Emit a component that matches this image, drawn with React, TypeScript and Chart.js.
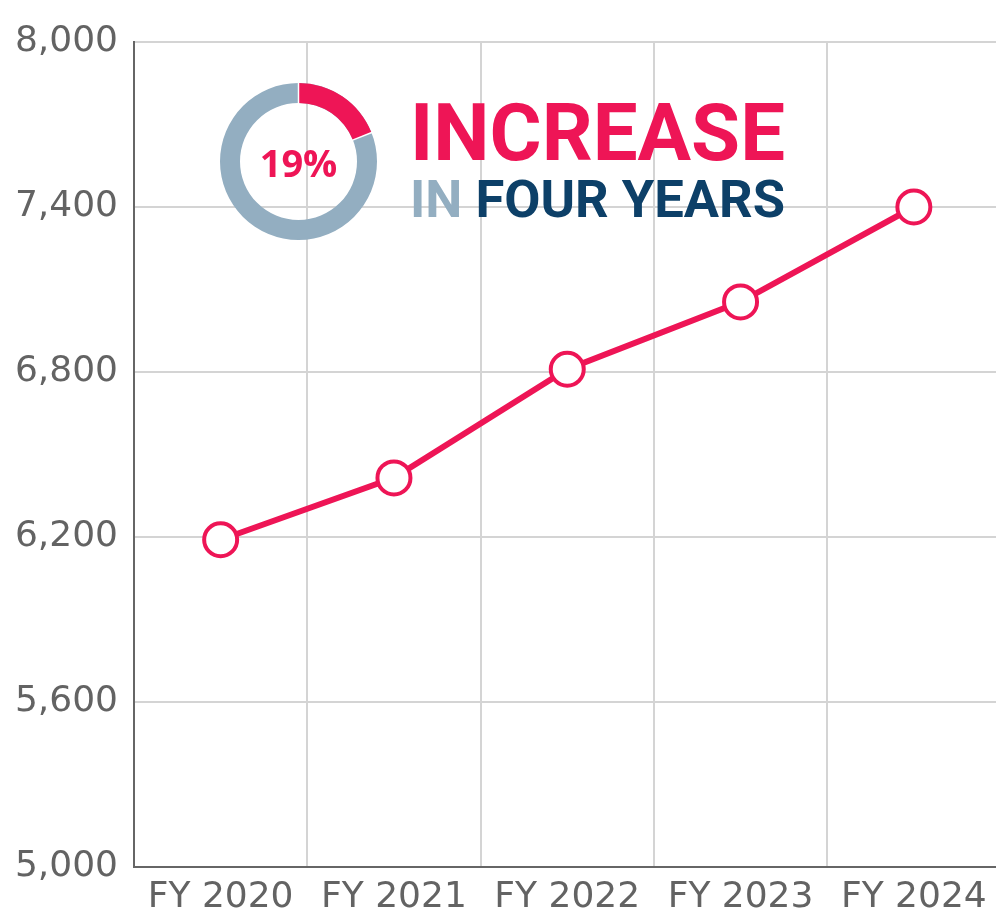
import React, { useEffect, useRef } from 'react';
import { Chart, registerables } from 'chart.js';

Chart.register(...registerables);

const categories = ['FY 2020', 'FY 2021', 'FY 2022', 'FY 2023', 'FY 2024'];
const values = [6190, 6415, 6810, 7055, 7400];
const yMin = 5000;
const yMax = 8000;
const yStep = 600;
const increasePct = 19;
const headlineTop = 'INCREASE';
const headlineSubA = 'IN';
const headlineSubB = 'FOUR YEARS';

const PINK = '#EE1556';
const STEEL = '#93AEC1';
const NAVY = '#0D4068';
const AXIS = '#666666';
const GRID = '#d4d4d4';
const TICK = '#636363';

const overlayPlugin = {
  id: 'overlay',
  afterDraw(chart: any) {
    const ctx = chart.ctx as CanvasRenderingContext2D;
    ctx.save();
    // donut
    const cx = 298.5, cy = 161.5, R = 78.5, r = 58.5;
    ctx.beginPath();
    ctx.arc(cx, cy, R, 0, Math.PI * 2);
    ctx.arc(cx, cy, r, Math.PI * 2, 0, true);
    ctx.closePath();
    ctx.fillStyle = STEEL;
    ctx.fill('evenodd');
    const a0 = -Math.PI / 2;
    const a1 = a0 + (Math.PI * 2 * increasePct) / 100;
    ctx.beginPath();
    ctx.arc(cx, cy, R, a0, a1);
    ctx.arc(cx, cy, r, a1, a0, true);
    ctx.closePath();
    ctx.fillStyle = PINK;
    ctx.fill();
    ctx.strokeStyle = '#ffffff';
    ctx.lineWidth = 1.5;
    for (const a of [a0, a1]) {
      ctx.beginPath();
      ctx.moveTo(cx + Math.cos(a) * (r - 1), cy + Math.sin(a) * (r - 1));
      ctx.lineTo(cx + Math.cos(a) * (R + 1), cy + Math.sin(a) * (R + 1));
      ctx.stroke();
    }
    ctx.fillStyle = PINK;
    ctx.font = 'bold 38px "Open Sans"';
    ctx.textAlign = 'center';
    ctx.textBaseline = 'alphabetic';
    ctx.fillText(increasePct + '%', cx, 177);

    // headline
    ctx.textAlign = 'left';
    ctx.font = 'bold 80px Roboto';
    const w1 = ctx.measureText(headlineTop).width;
    ctx.save();
    ctx.translate(410, 160);
    ctx.scale(375 / w1, 1);
    ctx.fillStyle = PINK;
    ctx.fillText(headlineTop, 0, 0);
    ctx.restore();

    ctx.font = 'bold 52px Roboto';
    const full = headlineSubA + ' ' + headlineSubB;
    const w2 = ctx.measureText(full).width;
    const wA = ctx.measureText(headlineSubA + ' ').width;
    ctx.save();
    ctx.translate(410, 217);
    ctx.scale(375 / w2, 1);
    ctx.fillStyle = STEEL;
    ctx.fillText(headlineSubA, 0, 0);
    ctx.fillStyle = NAVY;
    ctx.fillText(headlineSubB, wA, 0);
    ctx.restore();
    ctx.restore();
  },
};

export default function App() {
  const ref = useRef<HTMLCanvasElement>(null);
  useEffect(() => {
    if (!ref.current) return;
    const chart = new Chart(ref.current, {
      type: 'line',
      data: {
        labels: categories,
        datasets: [
          {
            data: values,
            borderColor: PINK,
            borderWidth: 6,
            pointRadius: 16.5,
            pointHoverRadius: 16.5,
            pointBackgroundColor: '#ffffff',
            pointBorderColor: PINK,
            pointBorderWidth: 4,
            tension: 0,
          },
        ],
      },
      options: {
        responsive: false,
        animation: false,
        layout: { padding: { top: 42, left: 0, right: 0, bottom: 0 } },
        plugins: { legend: { display: false }, tooltip: { enabled: false } },
        scales: {
          x: {
            offset: true,
            grid: { offset: true, color: GRID, lineWidth: 2, drawTicks: false, tickLength: 0 },
            border: { color: AXIS, width: 2 },
            ticks: { color: TICK, font: { family: 'DejaVu Sans', size: 36 }, padding: 9, maxRotation: 0 },
            afterFit(scale: any) {
              scale.height = 45;
            },
          },
          y: {
            min: yMin,
            max: yMax,
            grid: { color: GRID, lineWidth: 2, drawTicks: false, tickLength: 0 },
            border: { color: AXIS, width: 2 },
            ticks: {
              stepSize: yStep,
              color: TICK,
              font: { family: 'DejaVu Sans', size: 36 },
              padding: 16,
              callback: (v: any) => Number(v).toLocaleString('en-US'),
            },
            afterFit(scale: any) {
              scale.width = 134;
            },
          },
        },
      },
      plugins: [overlayPlugin],
    });
    return () => chart.destroy();
  }, []);
  return (
    <div style={{ position: 'absolute', left: 0, top: 0, width: 996, height: 912, background: '#fff', overflow: 'hidden' }}>
      <canvas ref={ref} width={1021} height={912} />
    </div>
  );
}
